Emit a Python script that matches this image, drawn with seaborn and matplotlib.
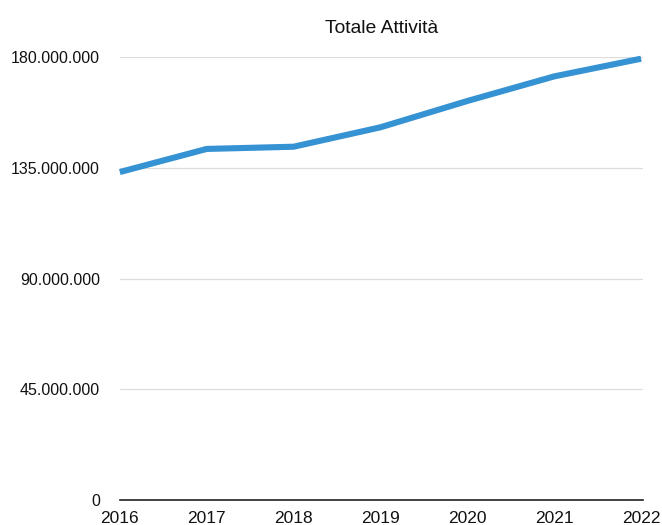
import matplotlib
matplotlib.use("Agg")
import matplotlib.pyplot as plt
import seaborn as sns
import pandas as pd
from matplotlib.ticker import FuncFormatter, FixedLocator

# Totale attività per anno
anni = [2016, 2017, 2018, 2019, 2020, 2021, 2022]
totale_attivita = [133_300_000, 142_700_000, 143_600_000, 151_500_000,
                   162_200_000, 172_200_000, 179_400_000]
y_ticks = [0, 45_000_000, 90_000_000, 135_000_000, 180_000_000]

df = pd.DataFrame({"Anno": anni, "Totale": totale_attivita})

sns.set_style("white")
plt.rcParams["font.family"] = ["Liberation Sans", "DejaVu Sans"]

fig = plt.figure(figsize=(6.62, 5.25), dpi=100)
ax = fig.add_axes([0.181, 0.048, 0.79, 0.843])

sns.lineplot(data=df, x="Anno", y="Totale", ax=ax, color="#3592D3",
             linewidth=4.4, solid_capstyle="butt", solid_joinstyle="round",
             clip_on=False)

ax.set_xlim(anni[0], anni[-1] + 0.02)
ax.set_ylim(0, y_ticks[-1])
ax.yaxis.set_major_locator(FixedLocator(y_ticks))
ax.set_xticks(anni)
ax.yaxis.set_major_formatter(
    FuncFormatter(lambda v, _: f"{int(v):,}".replace(",", ".")))

ax.grid(axis="y", color="#dddddd", linewidth=0.9)
ax.grid(axis="x", visible=False)
ax.set_axisbelow(True)
for side in ("left", "right", "top"):
    ax.spines[side].set_visible(False)
ax.spines["bottom"].set_color("#222222")
ax.spines["bottom"].set_linewidth(1.2)

ax.tick_params(axis="both", length=0, colors="#111111")
ax.tick_params(axis="y", labelsize=11.5, pad=14.4)
ax.tick_params(axis="x", labelsize=12.5, pad=8)
ax.set_xlabel("")
ax.set_ylabel("")

fig.text(0.576, 0.946, "Totale Attività", ha="center", va="center",
         fontsize=13.9, color="#111111")

fig.savefig("out.png", dpi=100)
